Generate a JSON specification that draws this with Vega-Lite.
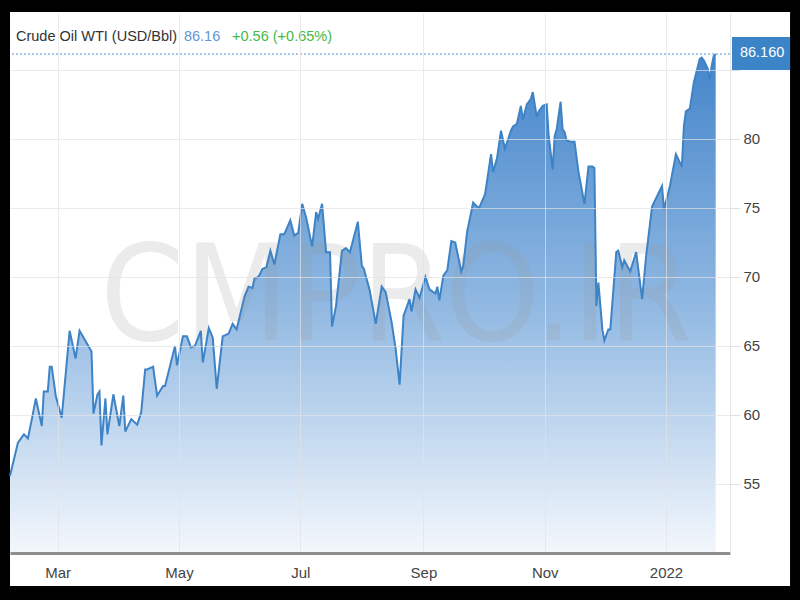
{
  "$schema": "https://vega.github.io/schema/vega-lite/v6.json",
  "width": 720,
  "height": 540,
  "autosize": {"type": "none"},
  "padding": {"left": 10, "top": 13, "right": 70, "bottom": 47},
  "background": "#000000",
  "config": {
    "view": {"stroke": null},
    "font": "Liberation Sans",
    "axis": {"zindex": 1}
  },
  "datasets": {
    "wti": [
      {"date":"2021-02-05","price":55.6},{"date":"2021-02-09","price":58.0},{"date":"2021-02-12","price":58.6},{"date":"2021-02-14","price":58.3},{"date":"2021-02-16","price":59.7},{"date":"2021-02-18","price":61.2},{"date":"2021-02-21","price":59.2},{"date":"2021-02-22","price":61.7},{"date":"2021-02-24","price":61.7},{"date":"2021-02-25","price":63.5},{"date":"2021-02-26","price":63.5},{"date":"2021-02-28","price":61.4},
      {"date":"2021-03-03","price":59.8},{"date":"2021-03-07","price":66.1},{"date":"2021-03-10","price":64.1},{"date":"2021-03-12","price":66.1},{"date":"2021-03-16","price":65.1},{"date":"2021-03-18","price":64.6},{"date":"2021-03-19","price":60.1},{"date":"2021-03-21","price":61.5},{"date":"2021-03-22","price":61.7},{"date":"2021-03-23","price":57.8},{"date":"2021-03-25","price":61.2},{"date":"2021-03-26","price":58.6},{"date":"2021-03-29","price":61.5},
      {"date":"2021-04-01","price":59.2},{"date":"2021-04-03","price":61.4},{"date":"2021-04-04","price":58.8},{"date":"2021-04-07","price":59.7},{"date":"2021-04-10","price":59.3},{"date":"2021-04-12","price":60.2},{"date":"2021-04-14","price":63.3},{"date":"2021-04-15","price":63.3},{"date":"2021-04-18","price":63.5},{"date":"2021-04-20","price":61.4},{"date":"2021-04-23","price":62.1},{"date":"2021-04-24","price":62.1},{"date":"2021-04-29","price":65.0},{"date":"2021-04-30","price":63.6},
      {"date":"2021-05-03","price":65.7},{"date":"2021-05-05","price":65.7},{"date":"2021-05-07","price":64.9},{"date":"2021-05-09","price":65.0},{"date":"2021-05-12","price":66.1},{"date":"2021-05-13","price":63.8},{"date":"2021-05-16","price":66.3},{"date":"2021-05-18","price":65.6},{"date":"2021-05-20","price":61.9},{"date":"2021-05-23","price":65.7},{"date":"2021-05-26","price":65.9},{"date":"2021-05-28","price":66.6},{"date":"2021-05-30","price":66.2},
      {"date":"2021-06-03","price":68.6},{"date":"2021-06-05","price":69.3},{"date":"2021-06-07","price":69.2},{"date":"2021-06-08","price":69.9},{"date":"2021-06-10","price":70.0},{"date":"2021-06-12","price":70.6},{"date":"2021-06-14","price":70.7},{"date":"2021-06-16","price":71.9},{"date":"2021-06-18","price":70.9},{"date":"2021-06-21","price":73.1},{"date":"2021-06-23","price":73.1},{"date":"2021-06-26","price":74.1},{"date":"2021-06-28","price":73.0},{"date":"2021-06-30","price":73.2},
      {"date":"2021-07-02","price":75.3},{"date":"2021-07-04","price":74.3},{"date":"2021-07-07","price":72.2},{"date":"2021-07-09","price":74.7},{"date":"2021-07-10","price":74.2},{"date":"2021-07-12","price":75.3},{"date":"2021-07-14","price":71.8},{"date":"2021-07-16","price":71.8},{"date":"2021-07-17","price":66.4},{"date":"2021-07-19","price":67.9},{"date":"2021-07-22","price":71.9},{"date":"2021-07-24","price":72.1},{"date":"2021-07-26","price":71.8},{"date":"2021-07-28","price":72.9},{"date":"2021-07-30","price":74.0},
      {"date":"2021-08-01","price":70.8},{"date":"2021-08-02","price":70.6},{"date":"2021-08-05","price":69.0},{"date":"2021-08-06","price":68.2},{"date":"2021-08-08","price":66.6},{"date":"2021-08-11","price":69.3},{"date":"2021-08-13","price":68.9},{"date":"2021-08-16","price":66.7},{"date":"2021-08-18","price":64.8},{"date":"2021-08-20","price":62.2},{"date":"2021-08-22","price":67.2},{"date":"2021-08-25","price":68.4},{"date":"2021-08-26","price":67.5},{"date":"2021-08-28","price":69.1},{"date":"2021-08-30","price":68.5},
      {"date":"2021-09-02","price":70.0},{"date":"2021-09-04","price":69.1},{"date":"2021-09-07","price":68.8},{"date":"2021-09-08","price":69.3},{"date":"2021-09-09","price":68.3},{"date":"2021-09-11","price":70.1},{"date":"2021-09-13","price":70.5},{"date":"2021-09-15","price":72.6},{"date":"2021-09-17","price":72.5},{"date":"2021-09-18","price":71.8},{"date":"2021-09-20","price":70.4},{"date":"2021-09-21","price":70.8},{"date":"2021-09-23","price":73.3},{"date":"2021-09-26","price":75.4},{"date":"2021-09-28","price":75.1},{"date":"2021-09-29","price":75.0},
      {"date":"2021-10-02","price":76.0},{"date":"2021-10-05","price":78.9},{"date":"2021-10-06","price":77.6},{"date":"2021-10-08","price":78.6},{"date":"2021-10-10","price":80.6},{"date":"2021-10-12","price":79.3},{"date":"2021-10-15","price":80.6},{"date":"2021-10-16","price":80.9},{"date":"2021-10-18","price":81.1},{"date":"2021-10-20","price":82.4},{"date":"2021-10-21","price":81.4},{"date":"2021-10-23","price":82.5},{"date":"2021-10-25","price":82.9},{"date":"2021-10-26","price":83.4},{"date":"2021-10-28","price":81.6},{"date":"2021-10-29","price":82.0},{"date":"2021-10-31","price":82.4},
      {"date":"2021-11-02","price":82.5},{"date":"2021-11-03","price":80.2},{"date":"2021-11-05","price":77.8},{"date":"2021-11-06","price":80.2},{"date":"2021-11-07","price":80.7},{"date":"2021-11-09","price":82.7},{"date":"2021-11-10","price":80.7},{"date":"2021-11-11","price":80.5},{"date":"2021-11-12","price":79.9},{"date":"2021-11-14","price":79.8},{"date":"2021-11-16","price":79.8},{"date":"2021-11-18","price":77.6},{"date":"2021-11-21","price":75.3},{"date":"2021-11-23","price":78.0},{"date":"2021-11-25","price":78.0},{"date":"2021-11-26","price":77.9},{"date":"2021-11-27","price":67.9},{"date":"2021-11-28","price":69.6},{"date":"2021-11-30","price":66.2},
      {"date":"2021-12-01","price":65.4},{"date":"2021-12-03","price":66.2},{"date":"2021-12-04","price":66.2},{"date":"2021-12-07","price":71.8},{"date":"2021-12-08","price":71.9},{"date":"2021-12-10","price":70.7},{"date":"2021-12-11","price":71.2},{"date":"2021-12-14","price":70.4},{"date":"2021-12-17","price":71.8},{"date":"2021-12-20","price":68.4},{"date":"2021-12-22","price":71.5},{"date":"2021-12-25","price":75.1},{"date":"2021-12-30","price":76.6},{"date":"2021-12-31","price":74.9},
      {"date":"2022-01-03","price":76.6},{"date":"2022-01-06","price":78.9},{"date":"2022-01-09","price":78.0},{"date":"2022-01-10","price":80.9},{"date":"2022-01-11","price":82.0},{"date":"2022-01-13","price":82.2},{"date":"2022-01-15","price":84.1},{"date":"2022-01-18","price":85.8},{"date":"2022-01-19","price":85.9},{"date":"2022-01-20","price":85.7},{"date":"2022-01-22","price":85.1},{"date":"2022-01-23","price":84.3},{"date":"2022-01-24","price":85.3},{"date":"2022-01-25","price":86.0},{"date":"2022-01-26","price":86.16}
    ]
  },
  "layer": [
    {
      "data": {"values": [{}]},
      "mark": {"type": "rect", "color": "#ffffff"},
      "encoding": {
        "x": {"datum": {"year": 2021, "month": 2, "date": 5, "utc": true}, "type": "temporal",
              "scale": {"type": "utc", "domain": [{"year": 2021, "month": 2, "date": 5, "utc": true}, {"year": 2022, "month": 2, "date": 2, "hours": 5, "utc": true}], "nice": false},
              "axis": {"title": null}},
        "x2": {"datum": {"year": 2022, "month": 3, "date": 4, "hours": 10, "utc": true}},
        "y": {"datum": 47.6, "type": "quantitative",
              "scale": {"domain": [50, 89.13], "zero": false, "nice": false},
              "axis": {"title": null}},
        "y2": {"datum": 89.2}
      }
    },
    {
      "data": {"name": "wti"},
      "mark": {"type": "area", "color": {"gradient": "linear", "x1": 0, "y1": 0, "x2": 0, "y2": 1,
        "stops": [{"offset": 0, "color": "#4485ca"}, {"offset": 0.5, "color": "#90b8e2"}, {"offset": 1, "color": "#f3f7fc"}]}},
      "encoding": {
        "x": {"field": "date", "type": "temporal",
              "axis": {"title": null, "tickCount": {"interval": "month", "step": 2},
                       "labelExpr": "utcmonth(datum.value) == 0 ? utcFormat(datum.value, '%Y') : utcFormat(datum.value, '%b')",
                       "grid": true, "gridColor": "#e2e2e2", "gridOpacity": 0.7, "ticks": false,
                       "domain": true, "domainColor": "#8e8e8e", "domainWidth": 3,
                       "labelFontSize": 15, "labelColor": "#444444", "labelPadding": 12, "labelFlush": false, "zindex": 1}},
        "y": {"field": "price", "type": "quantitative",
              "axis": {"title": null, "orient": "right", "values": [55, 60, 65, 70, 75, 80, 85],
                       "labelExpr": "datum.value == 85 ? '' : datum.label",
                       "grid": true, "gridColor": "#e2e2e2", "gridOpacity": 0.7,
                       "ticks": true, "tickSize": 10, "tickColor": "#e0e0e0",
                       "domain": true, "domainColor": "#e6e6e6", "domainWidth": 1,
                       "labelFontSize": 15, "labelColor": "#444444", "labelPadding": 3, "zindex": 1}},
        "y2": {"datum": 50}
      }
    },
    {
      "data": {"values": [{}]},
      "mark": {"type": "text", "text": "CMPRO.IR", "font": "DejaVu Sans Condensed", "fontSize": 134, "align": "center", "baseline": "alphabetic", "color": "#999999", "opacity": 0.19},
      "encoding": {
        "x": {"datum": {"year": 2021, "month": 8, "date": 18, "hours": 5, "utc": true}, "type": "temporal", "axis": {"title": null}},
        "y": {"datum": 65.43, "type": "quantitative", "axis": {"title": null}}
      }
    },
    {
      "data": {"name": "wti"},
      "mark": {"type": "line", "color": "#3d83c6", "strokeWidth": 2},
      "encoding": {
        "x": {"field": "date", "type": "temporal", "axis": {"title": null}},
        "y": {"field": "price", "type": "quantitative", "axis": {"title": null}}
      }
    },
    {
      "data": {"values": [{}]},
      "mark": {"type": "rule", "color": "#a6c8ec", "strokeDash": [2, 2], "strokeWidth": 2},
      "encoding": {
        "y": {"datum": 86.16, "type": "quantitative", "axis": {"title": null}}
      }
    },
    {
      "data": {"values": [{}]},
      "mark": {"type": "rect", "color": "#3c84c8"},
      "encoding": {
        "x": {"datum": {"year": 2022, "month": 2, "date": 3, "hours": 5, "utc": true}, "type": "temporal", "axis": {"title": null}},
        "x2": {"datum": {"year": 2022, "month": 3, "date": 4, "hours": 10, "utc": true}},
        "y": {"datum": 87.39, "type": "quantitative", "axis": {"title": null}},
        "y2": {"datum": 85.0}
      }
    },
    {
      "data": {"values": [{}]},
      "mark": {"type": "text", "text": "86.160", "fontSize": 14.5, "align": "left", "baseline": "middle", "color": "#ffffff"},
      "encoding": {
        "x": {"datum": {"year": 2022, "month": 2, "date": 7, "hours": 5, "utc": true}, "type": "temporal", "axis": {"title": null}},
        "y": {"datum": 86.2, "type": "quantitative", "axis": {"title": null}}
      }
    },
    {
      "data": {"values": [{}]},
      "mark": {"type": "text", "text": "Crude Oil WTI (USD/Bbl)", "fontSize": 14.5, "align": "left", "baseline": "middle", "color": "#333333"},
      "encoding": {
        "x": {"datum": {"year": 2021, "month": 2, "date": 8, "utc": true}, "type": "temporal", "axis": {"title": null}},
        "y": {"datum": 87.4, "type": "quantitative", "axis": {"title": null}}
      }
    },
    {
      "data": {"values": [{}]},
      "mark": {"type": "text", "text": "86.16", "fontSize": 14.5, "align": "left", "baseline": "middle", "color": "#6496d6"},
      "encoding": {
        "x": {"datum": {"year": 2021, "month": 5, "date": 3, "hours": 12, "utc": true}, "type": "temporal", "axis": {"title": null}},
        "y": {"datum": 87.4, "type": "quantitative", "axis": {"title": null}}
      }
    },
    {
      "data": {"values": [{}]},
      "mark": {"type": "text", "text": "+0.56 (+0.65%)", "fontSize": 14.5, "align": "left", "baseline": "middle", "color": "#45b845"},
      "encoding": {
        "x": {"datum": {"year": 2021, "month": 5, "date": 27, "hours": 17, "utc": true}, "type": "temporal", "axis": {"title": null}},
        "y": {"datum": 87.4, "type": "quantitative", "axis": {"title": null}}
      }
    }
  ]
}
